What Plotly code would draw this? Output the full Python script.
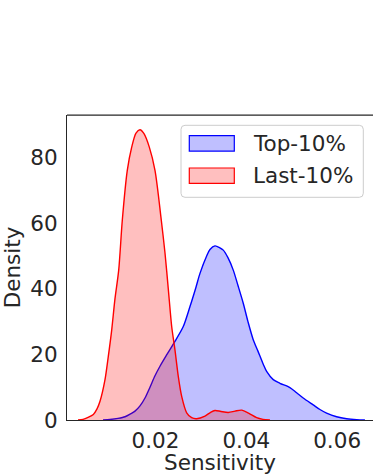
import plotly.graph_objects as go

# Kernel density estimates of sensitivity for the two groups
top_x = [0.00843, 0.00997, 0.01174, 0.01328, 0.01438, 0.01548, 0.01658, 0.01768,
         0.01878, 0.01988, 0.02098, 0.02252, 0.02428, 0.02611, 0.02759, 0.02891,
         0.02979, 0.03126, 0.03199, 0.03309, 0.03419, 0.03492, 0.03595, 0.03712,
         0.03816, 0.03932, 0.04036, 0.04152, 0.04256, 0.04373, 0.04447, 0.04593,
         0.04740, 0.04960, 0.05108, 0.05253, 0.05473, 0.05621, 0.05768, 0.05989,
         0.06209, 0.06429, 0.06612]
top_density = [0, 0.15, 0.5, 1.0, 1.8, 2.7, 4.3, 6.7, 10, 13.5, 16.4, 20, 24, 28.5,
               34.6, 40.5, 44.7, 50, 52, 53.1, 52.5, 51.8, 49.5, 45.7, 41, 35.6, 30,
               24.5, 21, 17, 14.8, 12.3, 11.2, 9.9, 8.3, 6.7, 4.6, 3.2, 2.1, 1.0,
               0.4, 0.1, 0]

last_x = [0.00293, 0.00403, 0.00513, 0.00630, 0.00711, 0.00777, 0.00887, 0.00960,
          0.01035, 0.01107, 0.01189, 0.01268, 0.01378, 0.01475, 0.01570, 0.01658,
          0.01746, 0.01863, 0.01988, 0.02127, 0.02208, 0.02281, 0.02356, 0.02428,
          0.02501, 0.02576, 0.02686, 0.02796, 0.02906, 0.03089, 0.03199, 0.03309,
          0.03441, 0.03602, 0.03750, 0.03897, 0.04058, 0.04227, 0.04366, 0.04520]
last_density = [0, 0.2, 0.8, 1.7, 3.4, 5.7, 12.3, 19.4, 27.5, 37, 45.7, 60.9, 76.1,
                83.2, 87.5, 88.5, 87.3, 83.2, 76.1, 60.9, 51, 40, 28.5, 21.4, 13.3,
                7.2, 2.2, 0.7, 0.4, 1.2, 2.2, 2.9, 2.6, 2.3, 2.7, 3.0, 2.0, 0.7,
                0.2, 0]

series_names = ["Top-10%", "Last-10%"]
line_colors = ["#0000ff", "#ff0000"]
fill_colors = ["rgba(0,0,255,0.25)", "rgba(255,0,0,0.25)"]

x_ticks = [0.02, 0.04, 0.06]
x_tick_labels = ["0.02", "0.04", "0.06"]
y_ticks = [0, 20, 40, 60, 80]
y_tick_labels = ["0", "20", "40", "60", "80"]

FONT = "DejaVu Sans"
FS = 21.5
TEXT = "#262626"
W, H = 373, 475
ML, MR, MT, MB = 67, 0, 115, 55

fig = go.Figure()
for xs, ys, name, lc, fc in zip([top_x, last_x], [top_density, last_density],
                                series_names, line_colors, fill_colors):
    fig.add_trace(go.Scatter(
        x=xs, y=ys, name=name, mode="lines", fill="tozeroy",
        fillcolor=fc, line=dict(color=lc, width=1.4, shape="spline", smoothing=0.8),
        showlegend=False, hoverinfo="skip",
    ))

# helpers mapping pixel offsets onto paper coordinates
pw, ph = W - ML - MR, H - MT - MB


def px(v):
    return (v - ML) / pw


def py(v):
    return (H - MB - v) / ph


def rounded_rect(x0, y0, x1, y1, r):
    rx, ry = r / pw, r / ph
    a, b, c, d = px(x0), py(y1), px(x1), py(y0)
    return (f"M{a+rx},{b} L{c-rx},{b} Q{c},{b} {c},{b+ry} L{c},{d-ry} "
            f"Q{c},{d} {c-rx},{d} L{a+rx},{d} Q{a},{d} {a},{d-ry} "
            f"L{a},{b+ry} Q{a},{b} {a+rx},{b} Z")


shapes = [dict(type="path", xref="paper", yref="paper",
               path=rounded_rect(181, 125.3, 363.3, 197.3, 4),
               fillcolor="rgba(255,255,255,0.8)", line=dict(color="#cccccc", width=1))]
annotations = []
for i, (name, lc, fc) in enumerate(zip(series_names, line_colors, fill_colors)):
    yc = 143.4 + 32.3 * i
    shapes.append(dict(type="rect", xref="paper", yref="paper",
                       x0=px(189.3), x1=px(234.3), y0=py(yc + 7.7), y1=py(yc - 7.7),
                       fillcolor=fc, line=dict(color=lc, width=1.2)))
    annotations.append(dict(xref="paper", yref="paper", x=px(250.5), y=py(yc),
                            text=name, showarrow=False, xanchor="left", yanchor="middle",
                            font=dict(family=FONT, size=FS, color=TEXT)))
# top spine
shapes.append(dict(type="line", xref="paper", yref="paper", x0=0, x1=1, y0=1, y1=1,
                   line=dict(color=TEXT, width=1.25)))

fig.update_layout(
    width=W, height=H,
    margin=dict(l=ML, r=MR, t=MT, b=MB, pad=0),
    paper_bgcolor="white", plot_bgcolor="white",
    font=dict(family=FONT, size=FS, color=TEXT),
    shapes=shapes, annotations=annotations,
    xaxis=dict(range=[0.0005, 0.0679], tickvals=x_ticks, ticktext=x_tick_labels,
               showgrid=False, zeroline=False, showline=True, linecolor=TEXT,
               linewidth=1.25, ticks="outside", ticklen=1, tickcolor="rgba(0,0,0,0)",
               automargin=False,
               title=dict(text="Sensitivity", standoff=9,
                          font=dict(family=FONT, size=FS, color=TEXT))),
    yaxis=dict(range=[0, 93.0], tickvals=y_ticks, ticktext=y_tick_labels,
               showgrid=False, zeroline=False, showline=True, linecolor=TEXT,
               linewidth=1.25, ticks="outside", ticklen=4, tickcolor="rgba(0,0,0,0)",
               automargin=False,
               title=dict(text="Density", standoff=8,
                          font=dict(family=FONT, size=FS, color=TEXT))),
)

fig.write_html("out.html")
